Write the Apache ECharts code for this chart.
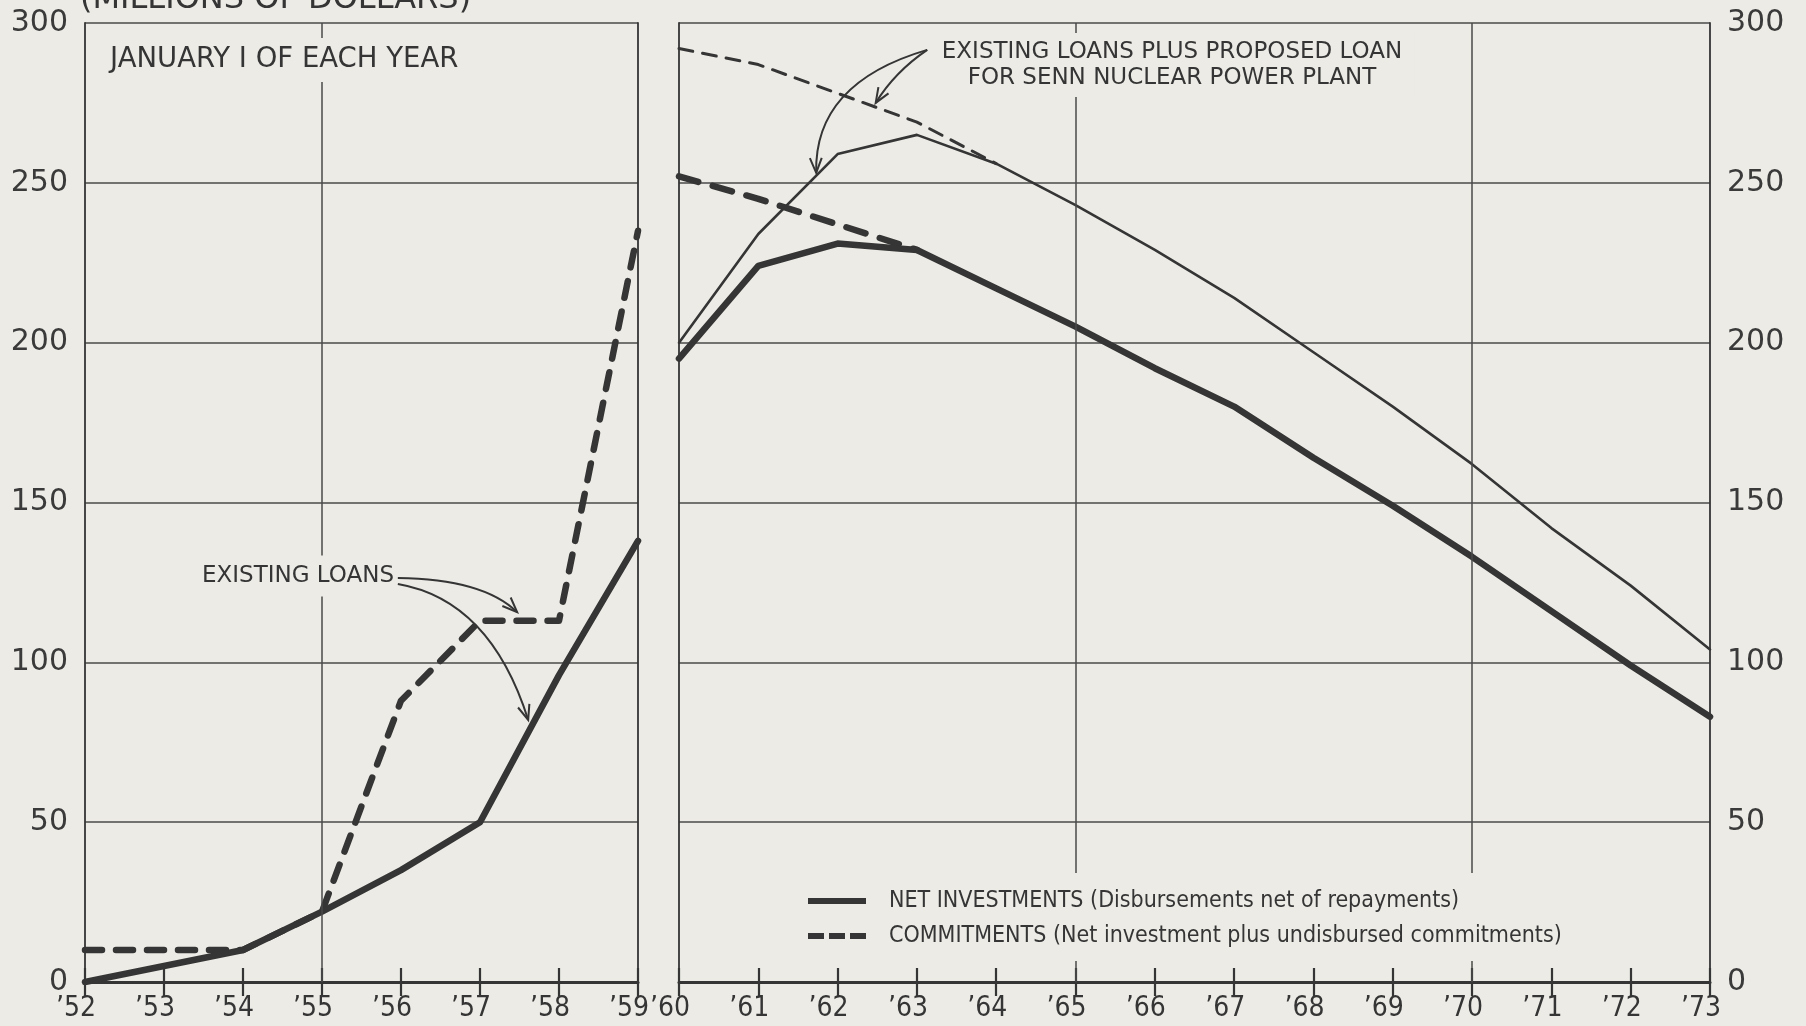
<!doctype html>
<html>
<head>
<meta charset="utf-8" />
<title>Net investments and commitments, 1952-1973</title>
<script src="https://cdn.jsdelivr.net/npm/echarts@6/dist/echarts.min.js"></script>
<style>
  html, body { margin: 0; background: #ecebe6; }
  #chart { width: 1806px; height: 1026px; }
</style>
</head>
<body>
<div id="chart"></div>
<script>
// January 1 of each year, millions of dollars
const leftYears = [1952, 1953, 1954, 1955, 1956, 1957, 1958, 1959];
const rightYears = [1960, 1961, 1962, 1963, 1964, 1965, 1966, 1967, 1968, 1969, 1970, 1971, 1972, 1973];

const netLeft = [0, 5, 10, 22, 35, 50, 96, 138];
const commitLeft = [10, 10, 10, 22, 88, 113, 113, 235];

const netRight = [195, 224, 231, 229, 217, 205, 192, 180, 164, 149, 133, 116, 99, 83];
const commitRight = [252, 245, 237, 229];
// existing loans plus proposed loan for the Senn plant
const proposedNet = [200, 234, 259, 265, 256, 243, 229, 214, 197, 180, 162, 142, 124, 104];
const proposedCommit = [292, 287, 278, 269, 256];

const leftGridYears = [1955];
const rightGridYears = [1965, 1970];

const bg = "#ecebe6";
const ink = "#353535";
const gridInk = "#4a4a4a";
const narrow = '"DejaVu Sans Condensed", "Liberation Sans Narrow", "Roboto Condensed", "DejaVu Sans", sans-serif';
const wide = '"DejaVu Sans", "Noto Sans", sans-serif';

const pairs = (xs, vs) => vs.map((v, i) => [xs[i], v]);
const yearLabel = (v) => "\u2019" + String(v).slice(2);

function xAxisPair(gridIndex, min, max) {
  const base = {
    gridIndex, type: "value", min, max, interval: 1,
    splitLine: { show: false },
    axisTick: { show: true, inside: true, length: 14, lineStyle: { color: ink, width: 2.2 } },
  };
  return [
    { ...base, position: "bottom",
      axisLine: { show: true, lineStyle: { color: ink, width: 3 } },
      axisLabel: { show: true, formatter: yearLabel, color: ink, fontSize: 28,
                   fontFamily: narrow, margin: 13, padding: [0, 18, 0, 0],
                   showMinLabel: true, showMaxLabel: true } },
    { ...base, position: "top",
      axisLine: { show: true, lineStyle: { color: ink, width: 1.8 } },
      axisLabel: { show: false } },
  ];
}

function yAxisPair(gridIndex, labelSide) {
  const base = {
    gridIndex, type: "value", min: 0, max: 300, interval: 50,
    axisTick: { show: false },
    axisLine: { show: true, lineStyle: { color: ink, width: 1.8 } },
  };
  const label = { show: true, color: "#3a3a3a", fontSize: 30, fontFamily: wide, margin: 17 };
  return [
    { ...base, position: "left",
      splitLine: { show: true, lineStyle: { color: gridInk, width: 1.5 } },
      axisLabel: labelSide === "left" ? label : { show: false } },
    { ...base, position: "right",
      splitLine: { show: false },
      axisLabel: labelSide === "right" ? label : { show: false } },
  ];
}

function vLines(years) {
  return {
    symbol: "none", silent: true, animation: false,
    label: { show: false },
    lineStyle: { color: gridInk, width: 1.5, type: "solid" },
    data: years.map((x) => ({ xAxis: x })),
  };
}

const thick = { color: ink, width: 6.5, cap: "round", join: "round" };
const thickDashL = { ...thick, type: [17, 14] };
const thickDashR = { ...thick, type: [20, 15] };
const thin = { color: ink, width: 2.6, cap: "round", join: "round" };
const thinDash = { ...thin, width: 3, type: [14, 10] };

function line(name, xi, yi, data, style, extra = {}) {
  return {
    name, type: "line", xAxisIndex: xi, yAxisIndex: yi, data,
    showSymbol: false, symbol: "none", lineStyle: style, silent: true, ...extra,
  };
}

const chart = echarts.init(document.getElementById("chart"), null, { renderer: "canvas" });

chart.setOption({
  animation: false,
  backgroundColor: bg,
  grid: [
    { left: 85, top: 23, width: 553, height: 959 },
    { left: 679, top: 23, width: 1031, height: 959 },
  ],
  xAxis: [...xAxisPair(0, 1952, 1959), ...xAxisPair(1, 1960, 1973)],
  yAxis: [...yAxisPair(0, "left"), ...yAxisPair(1, "right")],
  series: [
    line("commit-left", 0, 0, pairs(leftYears, commitLeft), thickDashL),
    line("net-left", 0, 0, pairs(leftYears, netLeft), thick, { markLine: vLines(leftGridYears) }),
    line("proposed-commit", 2, 2, pairs(rightYears, proposedCommit), thinDash),
    line("proposed-net", 2, 2, pairs(rightYears, proposedNet), thin, { markLine: vLines(rightGridYears) }),
    line("commit-right", 2, 2, pairs(rightYears, commitRight), thickDashR),
    line("net-right", 2, 2, pairs(rightYears, netRight), thick),
  ],
});

const toPx = (g, pt) => chart.convertToPixel({ xAxisIndex: g * 2, yAxisIndex: g * 2 }, pt);

// annotation arrows, anchored in data space
function arrow(g, from, ctrl, to) {
  const p0 = toPx(g, from), c = toPx(g, ctrl), p1 = toPx(g, to);
  const dx = p1[0] - c[0], dy = p1[1] - c[1];
  const len = Math.hypot(dx, dy) || 1;
  const ux = dx / len, uy = dy / len;
  const head = 16, a = 0.38;
  const wing = (s) => [
    p1[0] - head * (ux * Math.cos(s * a) - uy * Math.sin(s * a)),
    p1[1] - head * (ux * Math.sin(s * a) + uy * Math.cos(s * a)),
  ];
  return [
    { type: "bezierCurve", z: 20, silent: true,
      shape: { x1: p0[0], y1: p0[1], x2: p1[0], y2: p1[1], cpx1: c[0], cpy1: c[1] },
      style: { stroke: ink, lineWidth: 2, fill: null } },
    { type: "polyline", z: 20, silent: true,
      shape: { points: [wing(1), p1, wing(-1)] },
      style: { stroke: ink, lineWidth: 2, fill: null } },
  ];
}

const label = (x, y, text, size, family, extra = {}) => ({
  type: "text", z: 10, silent: true, x, y,
  style: { text, fill: ink, fontSize: size, fontFamily: family,
           align: "left", verticalAlign: "middle", backgroundColor: bg, ...extra },
});

const legendRow = (y, dash, text) => [
  { type: "line", z: 12, silent: true,
    shape: { x1: 808, y1: y, x2: 866, y2: y },
    style: { stroke: ink, lineWidth: 6, lineCap: "butt", lineDash: dash || null } },
  { ...label(889, y, text, 23, narrow, { backgroundColor: null }), z: 13 },
];

chart.setOption({
  graphic: [
    label(80, 0, "(MILLIONS OF DOLLARS)", 32, wide, { backgroundColor: null }),
    label(100, 60, "JANUARY I OF EACH YEAR", 27.5, wide, { padding: [8, 10] }),
    label(194, 576, "EXISTING LOANS", 23, wide, { padding: [9, 8] }),
    label(1172, 65, "EXISTING LOANS PLUS PROPOSED LOAN\nFOR SENN NUCLEAR POWER PLANT", 23, wide,
          { align: "center", lineHeight: 26, padding: [6, 12] }),
    { type: "rect", z: 11, silent: true,
      shape: { x: 798, y: 873, width: 780, height: 88 },
      style: { fill: bg } },
    ...legendRow(901, null, "NET INVESTMENTS (Disbursements net of repayments)"),
    ...legendRow(936, [16, 5], "COMMITMENTS (Net investment plus undisbursed commitments)"),
    ...arrow(0, [1955.96, 126.4], [1957.04, 126.1], [1957.47, 115.7]),
    ...arrow(0, [1955.96, 124.5], [1957.13, 119.5], [1957.61, 82.0]),
    ...arrow(1, [1963.13, 291.6], [1961.70, 281.2], [1961.73, 253.1]),
    ...arrow(1, [1963.13, 291.6], [1962.72, 284.7], [1962.48, 275.0]),
  ],
});
</script>
</body>
</html>
